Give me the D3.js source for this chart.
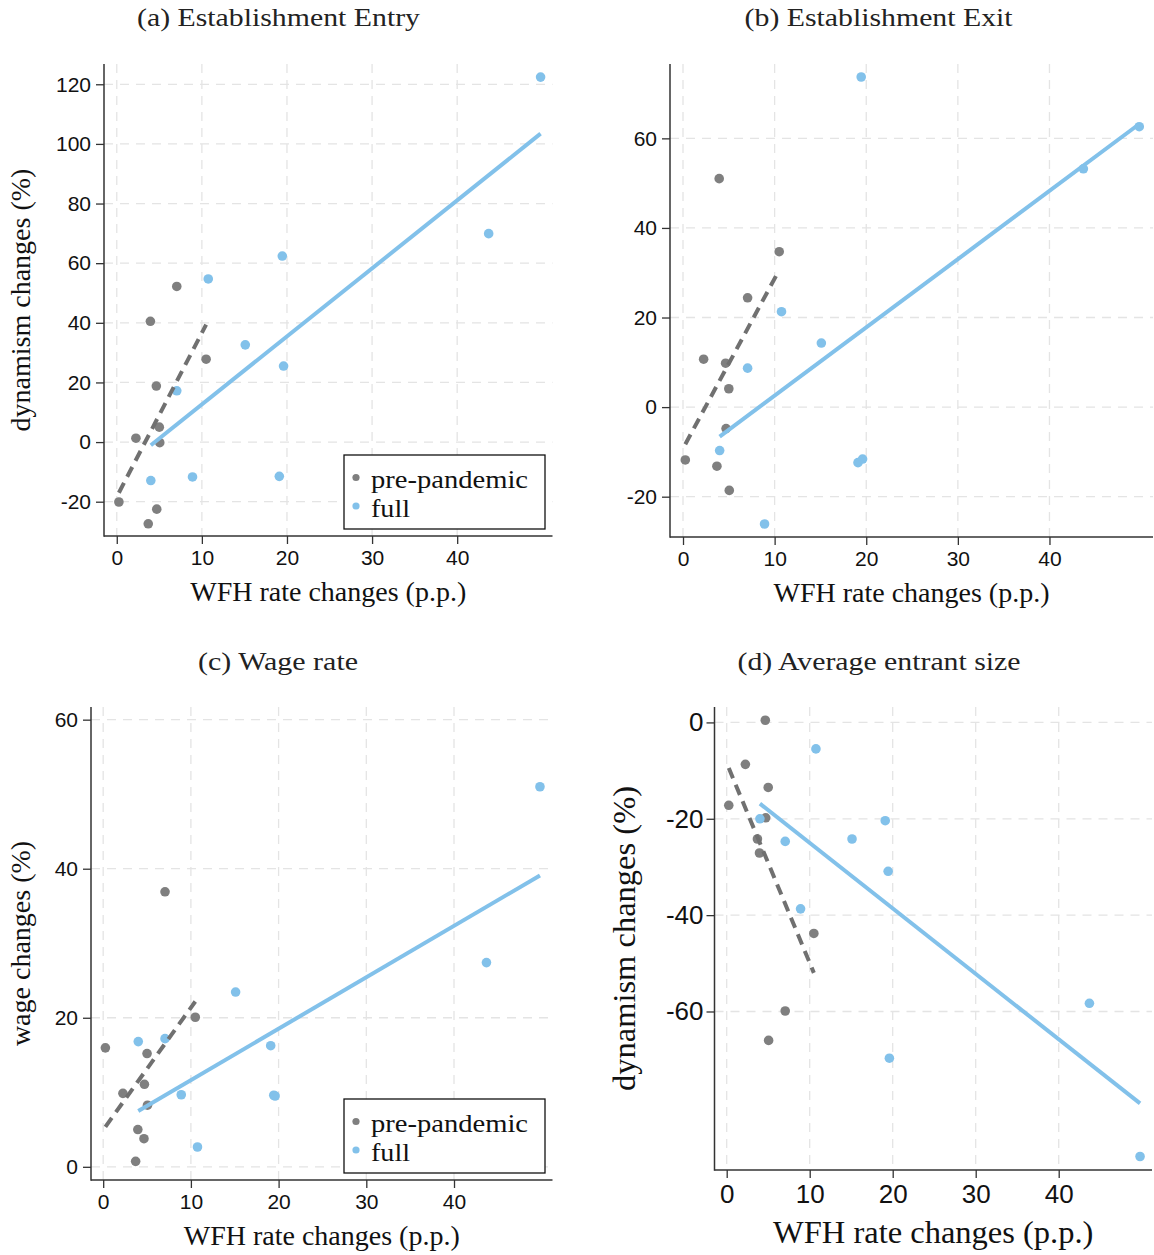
<!DOCTYPE html>
<html>
<head>
<meta charset="utf-8">
<script src="https://cdn.jsdelivr.net/npm/d3@7"></script>
<style>
  html, body { margin: 0; padding: 0; background: #fff; }
  svg { display: block; }
</style>
</head>
<body>
<svg id="chart" width="1154" height="1255"></svg>
<script>
// ---------------- DATA ----------------
// WFH rate changes (p.p.) per industry: pre-pandemic sample and full sample
const preX  = [0.25, 2.25, 3.7, 3.95, 4.65, 4.7, 5.0, 5.05, 7.05, 10.5];
const fullX = [4.0, 7.05, 8.9, 10.75, 15.1, 19.1, 19.45, 19.6, 43.7, 49.8];

// (a) Establishment Entry
const entryPre  = [-20.1, 1.3, -27.4, 40.5, 18.8, -22.5, 5.0, -0.2, 52.2, 27.8];
const entryFull = [-12.9, 17.2, -11.7, 54.7, 32.6, -11.5, 62.4, 25.5, 69.9, 122.4];
// (b) Establishment Exit
const exitPre   = [-11.8, 10.7, -13.2, 51.0, 9.8, -4.8, 4.1, -18.6, 24.4, 34.7];
const exitFull  = [-9.7, 8.7, -26.1, 21.3, 14.3, -12.4, 73.7, -11.6, 53.2, 62.6];
// (c) Wage rate
const wagePre   = [15.96, 9.86, 0.73, 5.0, 3.77, 11.07, 15.2, 8.27, 36.9, 20.07];
const wageFull  = [16.8, 17.2, 9.67, 2.66, 23.45, 16.25, 9.6, 9.5, 27.4, 51.0];
// (d) Average entrant size
const sizePre   = [-17.2, -8.7, -24.2, -27.1, 0.45, -19.8, -13.5, -66.0, -59.9, -43.8];
const sizeFull  = [-20.0, -24.7, -38.7, -5.5, -24.2, -20.4, -30.9, -69.7, -58.3, -90.1];

// tick labels
const xTicks      = [0, 10, 20, 30, 40];
const entryYTicks = [-20, 0, 20, 40, 60, 80, 100, 120];
const exitYTicks  = [-20, 0, 20, 40, 60];
const wageYTicks  = [0, 20, 40, 60];
const sizeYTicks  = [-60, -40, -20, 0];

const panelTitles = ["(a) Establishment Entry", "(b) Establishment Exit", "(c) Wage rate", "(d) Average entrant size"];
const seriesNames = ["pre-pandemic", "full"];
const xTitle = "WFH rate changes (p.p.)";
const yTitles = ["dynamism changes (%)", "", "wage changes (%)", "dynamism changes (%)"];

// ---------------- STYLE / LAYOUT ----------------
const GRAY = "#7f7f7f", DASH = "#707070", BLUE = "#82c1ea";
const SANS = "'Liberation Sans', Arial, Helvetica, sans-serif";
const SERIF = "'Liberation Serif', 'Times New Roman', serif";
const legendTextLen = [157, 39];

const panels = [
  { pre: entryPre, full: entryFull, yTicks: entryYTicks, title: panelTitles[0], yTitle: yTitles[0],
    left: 104, right: 552.5, top: 64, bottom: 536, xDom: [-1.5, 51.2], yDom: [-31.5, 126.8],
    tickFont: 21, titleFont: 28, xBase: 65, yTitleX: 30, legend: true, titleX: 278.5, titleY: 26, titleLen: 283 },
  { pre: exitPre, full: exitFull, yTicks: exitYTicks, title: panelTitles[1], yTitle: yTitles[1],
    left: 670, right: 1153, top: 64, bottom: 537, xDom: [-1.42, 51.3], yDom: [-29.0, 76.6],
    tickFont: 21, titleFont: 28, xBase: 65, yTitleX: null, legend: false, titleX: 878.6, titleY: 26, titleLen: 268 },
  { pre: wagePre, full: wageFull, yTicks: wageYTicks, title: panelTitles[2], yTitle: yTitles[2],
    left: 91, right: 552.5, top: 707, bottom: 1180, xDom: [-1.39, 51.23], yDom: [-1.77, 61.7],
    tickFont: 21, titleFont: 28, xBase: 65, yTitleX: 30, legend: true, titleX: 278, titleY: 670, titleLen: 160 },
  { pre: sizePre, full: sizeFull, yTicks: sizeYTicks, title: panelTitles[3], yTitle: yTitles[3],
    left: 714.5, right: 1152, top: 707, bottom: 1170, xDom: [-1.47, 51.24], yDom: [-92.9, 3.2],
    tickFont: 26, titleFont: 32.5, xBase: 73, yTitleX: 635, legend: false, titleX: 879, titleY: 670, titleLen: 283 }
];

function ols(xs, ys) {
  const n = xs.length;
  const mx = d3.mean(xs), my = d3.mean(ys);
  let sxy = 0, sxx = 0;
  for (let i = 0; i < n; i++) { sxy += (xs[i] - mx) * (ys[i] - my); sxx += (xs[i] - mx) ** 2; }
  const b = sxy / sxx, a = my - b * mx;
  const [x0, x1] = d3.extent(xs);
  return [[x0, a + b * x0], [x1, a + b * x1]];
}

const svg = d3.select("#chart");

panels.forEach(p => {
  const x = d3.scaleLinear().domain(p.xDom).range([p.left, p.right]);
  const y = d3.scaleLinear().domain(p.yDom).range([p.bottom, p.top]);
  const g = svg.append("g");

  // title
  g.append("text").attr("x", p.titleX).attr("y", p.titleY)
    .attr("text-anchor", "middle").attr("font-family", SERIF).attr("font-size", 25)
    .attr("textLength", p.titleLen).attr("lengthAdjust", "spacingAndGlyphs")
    .attr("fill", "#222").text(p.title);

  // grid
  const grid = g.append("g").attr("stroke", "#e4e4e4").attr("stroke-width", 1.3).attr("stroke-dasharray", "9,7");
  p.yTicks.forEach(t => grid.append("line").attr("x1", p.left).attr("x2", p.right).attr("y1", y(t)).attr("y2", y(t)));
  xTicks.forEach(t => grid.append("line").attr("x1", x(t)).attr("x2", x(t)).attr("y1", p.top).attr("y2", p.bottom));

  // axes
  const big = p.tickFont === 26;
  const xAxis = d3.axisBottom(x).tickValues(xTicks).tickSize(8).tickPadding(big ? 7 : 6).tickFormat(d3.format("d"));
  const yAxis = d3.axisLeft(y).tickValues(p.yTicks).tickSize(8).tickPadding(big ? 3 : 5).tickFormat(d => d3.format("d")(d).replace("−", "-"));
  const gx = g.append("g").attr("transform", `translate(0,${p.bottom})`).call(xAxis);
  const gy = g.append("g").attr("transform", `translate(${p.left},0)`).call(yAxis);
  [gx, gy].forEach(ax => {
    ax.select(".domain").remove();
    ax.selectAll(".tick line").attr("stroke", "#333").attr("stroke-width", 1.3);
    ax.selectAll(".tick text").attr("font-family", SANS).attr("font-size", p.tickFont).attr("fill", "#111");
  });
  g.append("line").attr("x1", p.left).attr("x2", p.left).attr("y1", p.top).attr("y2", p.bottom + 0.7)
    .attr("stroke", "#333").attr("stroke-width", 1.5);
  g.append("line").attr("x1", p.left).attr("x2", p.right).attr("y1", p.bottom).attr("y2", p.bottom)
    .attr("stroke", "#333").attr("stroke-width", 1.5);

  // points
  const pts = g.append("g");
  pts.selectAll("circle.pre").data(preX.map((v, i) => [v, p.pre[i]])).join("circle").attr("class", "pre")
    .attr("cx", d => x(d[0])).attr("cy", d => y(d[1])).attr("r", 4.8).attr("fill", GRAY);
  pts.selectAll("circle.full").data(fullX.map((v, i) => [v, p.full[i]])).join("circle").attr("class", "full")
    .attr("cx", d => x(d[0])).attr("cy", d => y(d[1])).attr("r", 4.8).attr("fill", BLUE);

  // fitted lines (OLS on each sample)
  const line = d3.line().x(d => x(d[0])).y(d => y(d[1]));
  g.append("path").attr("d", line(ols(preX, p.pre))).attr("fill", "none")
    .attr("stroke", DASH).attr("stroke-width", 4).attr("stroke-dasharray", "11,7");
  g.append("path").attr("d", line(ols(fullX, p.full))).attr("fill", "none")
    .attr("stroke", BLUE).attr("stroke-width", 4);

  // axis titles
  const cx = (p.left + p.right) / 2, cy = (p.top + p.bottom) / 2;
  g.append("text").attr("x", cx).attr("y", p.bottom + p.xBase).attr("text-anchor", "middle")
    .attr("font-family", SERIF).attr("font-size", p.titleFont).attr("fill", "#111").text(xTitle);
  if (p.yTitle) {
    g.append("text").attr("transform", `translate(${p.yTitleX},${cy}) rotate(-90)`).attr("text-anchor", "middle")
      .attr("font-family", SERIF).attr("font-size", p.titleFont).attr("fill", "#111").text(p.yTitle);
  }

  // legend
  if (p.legend) {
    const lx = 344, ly = p.bottom - 81, lw = 201, lh = 74;
    const lg = g.append("g");
    lg.append("rect").attr("x", lx).attr("y", ly).attr("width", lw).attr("height", lh)
      .attr("fill", "#fff").attr("stroke", "#111").attr("stroke-width", 1.3);
    [GRAY, BLUE].forEach((c, i) => {
      lg.append("circle").attr("cx", lx + 12).attr("cy", ly + 22.5 + i * 28.5).attr("r", 3.6).attr("fill", c);
      lg.append("text").attr("x", lx + 27).attr("y", ly + 33 + i * 28.5).attr("font-family", SERIF)
        .attr("font-size", 24.5).attr("textLength", legendTextLen[i]).attr("lengthAdjust", "spacingAndGlyphs")
        .attr("fill", "#111").text(seriesNames[i]);
    });
  }
});
</script>
</body>
</html>
